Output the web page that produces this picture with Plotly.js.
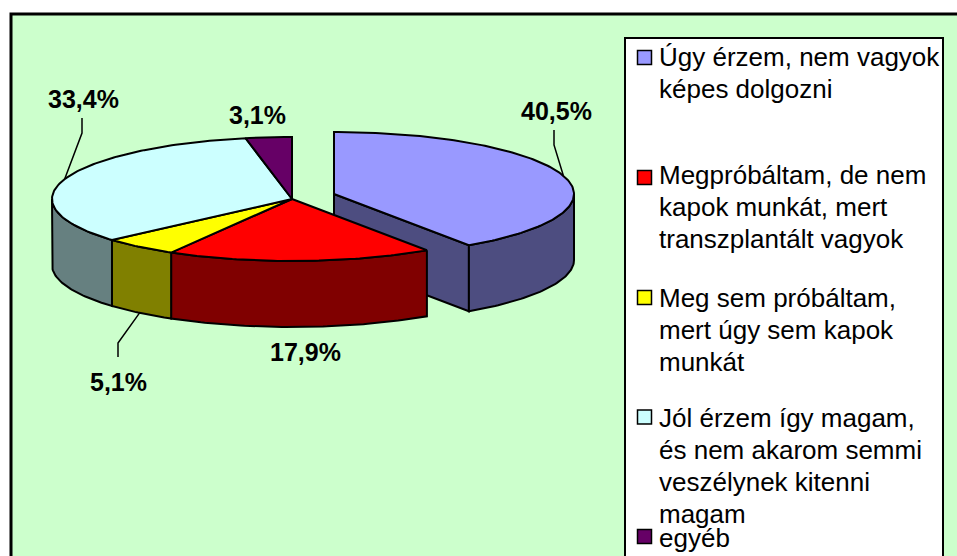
<!DOCTYPE html>
<html>
<head>
<meta charset="utf-8">
<script src="https://cdn.plot.ly/plotly-3.0.1.min.js"></script>
<style>html,body{margin:0;padding:0;background:#fff;overflow:hidden}</style>
</head>
<body>
<div id="chart" style="width:957px;height:556px"></div>
<script>
// Data
const categories = [
  "Úgy érzem, nem vagyok<br>képes dolgozni",
  "Megpróbáltam, de nem<br>kapok munkát, mert<br>transzplantált vagyok",
  "Meg sem próbáltam,<br>mert úgy sem kapok<br>munkát",
  "Jól érzem így magam,<br>és nem akarom semmi<br>veszélynek kitenni<br>magam",
  "egyéb"
];
const values = [40.5, 17.9, 5.1, 33.4, 3.1];

// Styles
const topColors  = ["#9999FF", "#FF0000", "#FFFF00", "#CCFFFF", "#660066"];
const sideColors = ["#4D4D80", "#800000", "#808000", "#668080", "#330033"];
const pieCenter = [292, 199], explodeOffset = [42, -5];
const rx = 240, ry = 62, depth = 66;
const labelPos = [[556,111],[305,352],[118,382],[83,99],[257,115]];
const leaders = [[0,[[554,145],[554,130]]],[2,[[118,343],[118,357]]],[3,[[82,133],[82,118]]]];
const legendTop = [57,175,298,418,538], swatchY = [57.5,177.5,297.5,417,536.5];
const lineGap = 32;

// Geometry comes from the values
const rad = d => d * Math.PI / 180;
const pt = (c, a, dz) => [c[0] + rx * Math.sin(rad(a)), c[1] - ry * Math.cos(rad(a)) + (dz || 0)];
function arc(c, a0, a1, dz) {
  const p = [], n = Math.max(1, Math.ceil(Math.abs(a1 - a0)));
  for (let i = 0; i <= n; i++) p.push(pt(c, a0 + (a1 - a0) * i / n, dz));
  return p;
}
const poly = (pts, fill, w) => ({
  type: "scatter", mode: "lines", x: pts.map(p => p[0]), y: pts.map(p => p[1]),
  fill: "toself", fillcolor: fill, line: {color: "#000", width: w || 2},
  hoverinfo: "skip", showlegend: false
});

const total = values.reduce((a, b) => a + b, 0);
let acc = 0;
const slices = values.map((v, i) => {
  const a0 = acc / total * 360; acc += v; const a1 = acc / total * 360;
  const c = i === 0 ? [pieCenter[0] + explodeOffset[0], pieCenter[1] + explodeOffset[1]] : pieCenter;
  return {a0, a1, c, mid: (a0 + a1) / 2};
});

const traces = [];
slices.forEach((s, i) => {
  // radial wall of the exploded slice
  if (i === 0) {
    const e = pt(s.c, s.a1);
    traces.push(poly([s.c, e, [e[0], e[1] + depth], [s.c[0], s.c[1] + depth], s.c], sideColors[i]));
  }
  // outer wall (front half only)
  const w0 = Math.max(s.a0, 90), w1 = Math.min(s.a1, 270);
  if (w1 > w0) {
    traces.push(poly(arc(s.c, w0, w1).concat(arc(s.c, w1, w0, depth)).concat([pt(s.c, w0)]), sideColors[i]));
  }
  // top face
  traces.push(poly([s.c].concat(arc(s.c, s.a0, s.a1)).concat([s.c]), topColors[i]));
});

// leader lines start on the slice's rim
leaders.forEach(([i, elbow]) => {
  const s = slices[i];
  const onFront = Math.cos(rad(s.mid)) < 0;
  const start = pt(s.c, s.mid, onFront ? depth : 0);
  const pts = [start].concat(elbow);
  traces.push({type: "scatter", mode: "lines", x: pts.map(p => p[0]), y: pts.map(p => p[1]),
    line: {color: "#000", width: 1.5}, hoverinfo: "skip", showlegend: false});
});

// legend swatches
traces.push({type: "scatter", mode: "markers", x: values.map(() => 644.5), y: swatchY,
  marker: {symbol: "square", size: 14, color: topColors, line: {color: "#000", width: 1.5}},
  hoverinfo: "skip", showlegend: false});

const annotations = [];
values.forEach((v, i) => {
  annotations.push({xref: "x", yref: "y", x: labelPos[i][0], y: labelPos[i][1], showarrow: false,
    text: "<b>" + v.toFixed(1).replace(".", ",") + "%</b>", xanchor: "center", yanchor: "middle",
    font: {family: "Liberation Sans", size: 25, color: "#000"}});
  categories[i].split("<br>").forEach((line, j) => {
    annotations.push({xref: "x", yref: "y", x: 659, y: legendTop[i] + j * lineGap, showarrow: false,
      text: line, xanchor: "left", yanchor: "middle", xshift: -2,
      font: {family: "Liberation Sans", size: 26, color: "#000"}});
  });
});

const layout = {
  width: 957, height: 556, margin: {l: 0, r: 0, t: 0, b: 0},
  paper_bgcolor: "#fff", plot_bgcolor: "rgba(0,0,0,0)", showlegend: false,
  xaxis: {range: [0, 957], visible: false, fixedrange: true},
  yaxis: {range: [556, 0], visible: false, fixedrange: true},
  shapes: [
    {type: "rect", layer: "below", xref: "x", yref: "y", x0: 11, y0: 14, x1: 970, y1: 570,
     fillcolor: "#CCFFCC", line: {color: "#000", width: 3}},
    {type: "rect", layer: "below", xref: "x", yref: "y", x0: 625, y0: 38, x1: 943, y1: 570,
     fillcolor: "#fff", line: {color: "#000", width: 2}}
  ],
  annotations
};
Plotly.newPlot("chart", traces, layout, {displayModeBar: false, staticPlot: true});
</script>
</body>
</html>
